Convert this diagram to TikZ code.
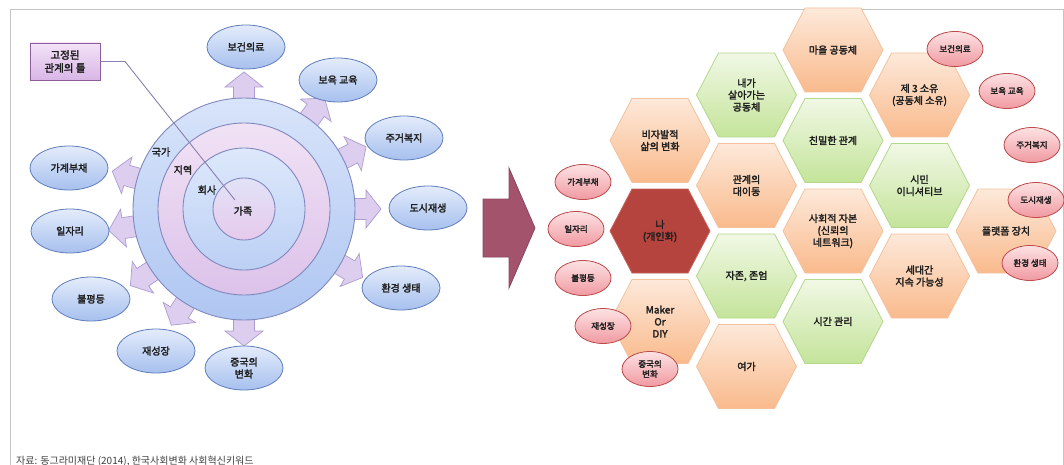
\documentclass[tikz,border=0pt]{standalone}
\usepackage{fontspec}
\newfontfamily\kr{Noto Sans CJK KR}
\newfontfamily\krb{Noto Sans CJK KR}[FakeBold=2.4]
\usetikzlibrary{shapes.geometric}
\definecolor{framec}{HTML}{C4C4C4}
\definecolor{ringline}{HTML}{8088BC}
\definecolor{ringA1}{HTML}{D8E4FA}\definecolor{ringA2}{HTML}{AFC6F2}
\definecolor{ringB1}{HTML}{F1E2F5}\definecolor{ringB2}{HTML}{DCC2EA}
\definecolor{ringC1}{HTML}{DDE8FB}\definecolor{ringC2}{HTML}{BCD0F5}
\definecolor{ringD1}{HTML}{E2E3F8}\definecolor{ringD2}{HTML}{E6C9EC}
\definecolor{blueT}{HTML}{E4ECFB}\definecolor{blueB}{HTML}{A6C0EE}\definecolor{blueL}{HTML}{5F7DBD}
\definecolor{pinkT}{HTML}{FDE2E4}\definecolor{pinkB}{HTML}{F09AA1}\definecolor{pinkL}{HTML}{BD4B4B}
\definecolor{arrF}{HTML}{DDCEEF}\definecolor{arrL}{HTML}{AC9CD2}
\definecolor{boxT}{HTML}{F3E3F7}\definecolor{boxB}{HTML}{D8B6E6}\definecolor{boxL}{HTML}{8B5E9C}
\definecolor{connc}{HTML}{8A80AE}
\definecolor{orT}{HTML}{FDE9DA}\definecolor{orB}{HTML}{F9BA8C}\definecolor{orL}{HTML}{F4C19C}
\definecolor{grT}{HTML}{F1F8E5}\definecolor{grB}{HTML}{C4E49A}\definecolor{grL}{HTML}{B3D78B}
\definecolor{rdF}{HTML}{B4443D}\definecolor{rdL}{HTML}{C6625B}
\definecolor{bigF}{HTML}{A3536B}\definecolor{bigL}{HTML}{8C4560}
\definecolor{txt}{HTML}{1E1E1E}
\newcommand{\hexcell}[5]{%
  \path[#4] (#2-50,#3) -- (#2-28,#3-42) -- (#2+28,#3-42) -- (#2+50,#3) -- (#2+28,#3+42) -- (#2-28,#3+42) -- cycle;
  \node[hextxt] (#1) at (#2,#3) {#5};}
\newcommand{\blockarrow}[1]{%
  \path[arrowstyle, rotate around={#1:(244,209)}] (344,198.5) -- (366,198.5) -- (366,190) -- (381,209) -- (366,228) -- (366,219.5) -- (344,219.5) -- cycle;}
\tikzset{
  ring/.style={circle, draw=ringline, line width=0.9pt, inner sep=0pt},
  blueell/.style={ellipse, draw=blueL, line width=0.8pt, top color=blueT, bottom color=blueB, minimum width=78pt, minimum height=44pt, inner sep=0pt, font=\krb\fontsize{10}{12}\selectfont, text=txt, align=center},
  pinkell/.style={ellipse, draw=pinkL, line width=0.8pt, top color=pinkT, bottom color=pinkB, minimum width=56pt, minimum height=35pt, inner sep=0pt, font=\krb\fontsize{8.5}{10}\selectfont, text=txt, align=center},
  arrowstyle/.style={fill=arrF, draw=arrL, line width=0.7pt},
  hextxt/.style={font=\krb\fontsize{10}{12}\selectfont, text=txt, align=center, inner sep=0pt},
  hexor/.style={draw=orL, line width=0.8pt, top color=orT, bottom color=orB},
  hexgr/.style={draw=grL, line width=0.8pt, top color=grT, bottom color=grB},
  hexrd/.style={draw=rdL, line width=0.8pt, fill=rdF},
  ringlabel/.style={font=\krb\fontsize{10}{12}\selectfont, text=txt, inner sep=0pt},
}
\begin{document}
\begin{tikzpicture}[x=1pt, y=-1pt]
\useasboundingbox (0,0) rectangle (1064,465);
\fill[white] (0,0) rectangle (1064,465);
% frame
\draw[framec, line width=1pt] (10,480) -- (10,10) -- (1063,10) -- (1063,480);

% ---- left: block arrows (behind circle)
\blockarrow{90}
\blockarrow{54}
\blockarrow{27}
\blockarrow{0}
\blockarrow{-30}
\blockarrow{-90}
\blockarrow{-122}
\blockarrow{-146}
\blockarrow{-171}
\blockarrow{164}

% ---- concentric circles
\node[ring, minimum size=222pt, top color=ringA1, bottom color=ringA2] (ring1) at (244,209) {};
\node[ring, minimum size=172pt, top color=ringB1, bottom color=ringB2] (ring2) at (244,209) {};
\node[ring, minimum size=122pt, top color=ringC1, bottom color=ringC2] (ring3) at (244,209) {};
\node[ring, minimum size=62pt, top color=ringD1, bottom color=ringD2] (ring4) at (244,209) {};

% ---- callout box and its line
\node[rectangle, draw=boxL, line width=0.9pt, top color=boxT, bottom color=boxB, minimum width=70pt, minimum height=37pt, inner sep=0pt, align=center, font=\krb\fontsize{10.5}{13}\selectfont, text=txt] (fixbox) at (65,61.5) {고정된\\관계의 틀};
\coordinate (bendpt) at (125,61.5);
\coordinate (famend) at (235,200);
\draw[connc, line width=0.9pt] (fixbox.east) -- (bendpt) -- (famend);

\node[ringlabel] (lgukga) at (161,152) {국가};
\node[ringlabel] (ljiyeok) at (183,170) {지역};
\node[ringlabel] (lhoesa) at (207,190) {회사};
\node[ringlabel] (lgajok) at (243,211) {가족};

% ---- blue ellipses
\node[blueell] (b1) at (246,47) {보건의료};
\node[blueell] (b2) at (338,80) {보육 교육};
\node[blueell] (b3) at (404,138) {주거복지};
\node[blueell] (b4) at (428,208) {도시재생};
\node[blueell] (b5) at (401,288) {환경 생태};
\node[blueell] (b6) at (244,368) {중국의\\변화};
\node[blueell] (b7) at (156,351) {재성장};
\node[blueell] (b8) at (91,299) {불평등};
\node[blueell] (b9) at (70,231) {일자리};
\node[blueell] (b10) at (69,168) {가계부채};

% ---- big arrow
\path[fill=bigF, draw=bigL, line width=0.8pt] (483,199) -- (509,199) -- (509,168) -- (535,228) -- (509,288) -- (509,257) -- (483,257) -- cycle;

% ---- hexagons
\hexcell{h1}{660}{140.5}{hexor}{비자발적\\삶의 변화}
\hexcell{h2}{660}{231}{hexrd}{나\\(개인화)}
\hexcell{h3}{660}{321.5}{hexor}{Maker\\Or\\DIY}
\hexcell{h4}{746.5}{95}{hexgr}{내가\\살아가는\\공동체}
\hexcell{h5}{746.5}{185.5}{hexor}{관계의\\대이동}
\hexcell{h6}{746.5}{276}{hexgr}{자존, 존엄}
\hexcell{h7}{746.5}{366.5}{hexor}{여가}
\hexcell{h8}{833}{50}{hexor}{마을 공동체}
\hexcell{h9}{833}{140.5}{hexgr}{친밀한 관계}
\hexcell{h10}{833}{231}{hexor}{사회적 자본\\(신뢰의\\네트워크)}
\hexcell{h11}{833}{321.5}{hexgr}{시간 관리}
\hexcell{h12}{919.5}{95}{hexor}{제 3 소유\\(공동체 소유)}
\hexcell{h13}{919.5}{185.5}{hexgr}{시민\\이니셔티브}
\hexcell{h14}{919.5}{276}{hexor}{세대간\\지속 가능성}
\hexcell{h15}{1006}{231}{hexor}{플랫폼 장치}

% ---- pink ellipses
\node[pinkell] (p1) at (955,49) {보건의료};
\node[pinkell] (p2) at (1007,91) {보육 교육};
\node[pinkell] (p3) at (1032,145) {주거복지};
\node[pinkell] (p4) at (1036,200) {도시재생};
\node[pinkell] (p5) at (1030,263) {환경 생태};
\node[pinkell] (p6) at (583,182) {가계부채};
\node[pinkell] (p7) at (576,229) {일자리};
\node[pinkell] (p8) at (583,278) {불평등};
\node[pinkell] (p9) at (603,326) {재성장};
\node[pinkell] (p10) at (650,369) {중국의\\변화};

% ---- caption
\node[anchor=west, inner sep=0pt, font=\kr\fontsize{10}{12}\selectfont, text=black!75] (caption) at (16,461) {자료: 동그라미재단 (2014), 한국사회변화 사회혁신키워드};
\end{tikzpicture}
\end{document}
